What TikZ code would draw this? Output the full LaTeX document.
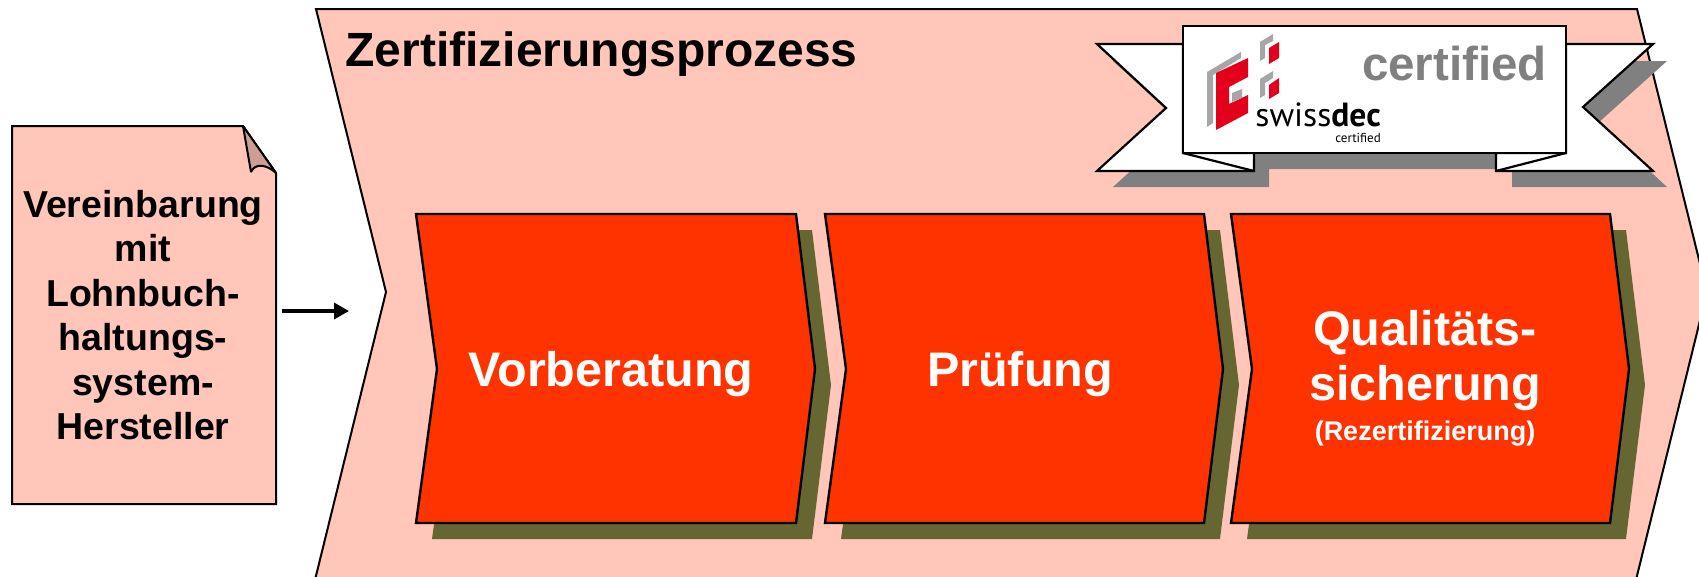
\documentclass[tikz,border=0pt]{standalone}
\usepackage{fontspec}
\usepackage{xcolor}
\setmainfont{Liberation Sans}
\newfontfamily\logofont{PT Sans}
\usetikzlibrary{arrows.meta}
\definecolor{prozessrosa}{HTML}{FFC6B9}
\definecolor{faltrosa}{HTML}{CC9E94}
\definecolor{schrittrot}{HTML}{FF3300}
\definecolor{schrittschatten}{HTML}{666633}
\definecolor{bandgrau}{HTML}{808080}
\definecolor{logorot}{HTML}{E2001A}
\definecolor{logograu}{HTML}{A6A6A6}
\tikzset{
	prozess/.style={draw=black, line width=2pt, fill=prozessrosa},
	band/.style={draw=black, line width=2.2pt, fill=white, line join=miter},
	schatten/.style={fill=bandgrau},
	schritt/.style={draw=black, line width=2.4pt, fill=schrittrot},
	schritttext/.style={text=white, font=\bfseries\fontsize{48.5}{55}\selectfont, align=center},
	kopf/.style={font=\bfseries\fontsize{48}{56}\selectfont, anchor=base west},
	vertragtext/.style={font=\bfseries\fontsize{37.5}{44.4}\selectfont, align=center}
}

\begin{document}
\begin{tikzpicture}[x=1pt, y=-1pt]
	\useasboundingbox (0, 0) rectangle (1699, 576);
	\clip (0, 0) rectangle (1699, 576);

	\draw[prozess] (316, 9) -- (1637, 9) -- (1707, 292) -- (1633, 592) -- (312, 592) -- (386, 292) -- cycle;
	\node[kopf] (titel) at (342, 66) {Zertifizierungsprozess};

	% Vereinbarung
	\draw[prozess] (12, 126) -- (243, 126) -- (276, 173) -- (276, 504) -- (12, 504) -- cycle;
	\draw[draw=black, line width=2pt, line join=bevel, fill=faltrosa] (243, 126) -- (276, 173)
		.. controls (266, 164) and (255, 163) .. (251, 172) -- cycle;
	\node[vertragtext] (vereinbarung) at (143, 315) {Vereinbarung\\mit\\Lohnbuch-\\haltungs-\\system-\\Hersteller};
	\coordinate (pfeilstart) at (282, 311);
	\coordinate (pfeilziel) at (349, 311);
	\draw[-{Triangle[length=15pt, width=16pt]}, line width=3.4pt] (pfeilstart) to (pfeilziel);

	% Schritte
	\foreach \x/\w/\n in {416/380/vorberatung, 825/379/pruefung, 1231/379/qualitaet} {
		\fill[schrittschatten] (\x+16, 230) -- (\x+\w+16, 230) -- (\x+\w+35, 385) -- (\x+\w+16, 539) -- (\x+16, 539) -- (\x+37, 385) -- cycle;
		\draw[schritt] (\x, 214) -- (\x+\w, 214) -- (\x+\w+19, 369) -- (\x+\w, 523) -- (\x, 523) -- (\x+21, 369) -- cycle;
	}
	\node[schritttext] (vorberatungtext) at (611, 374) {Vorberatung};
	\node[schritttext] (pruefungtext) at (1020, 374) {Prüfung};
	\node[schritttext] (qualitaettext) at (1425, 378) {Qualitäts-\\sicherung\\[-15pt]{\fontsize{27}{30}\selectfont (Rezertifizierung)}};

	% Band
	\fill[schatten] (1113, 61) -- (1182, 124) -- (1113, 187) -- (1269, 187) -- (1269, 169) -- (1512, 169) -- (1512, 187) -- (1667, 187) -- (1598, 123) -- (1667, 61) -- (1581, 61) -- (1581, 43) -- (1198, 43) -- (1198, 61) -- cycle;
	\draw[band] (1183, 44) -- (1097, 44) -- (1166, 108) -- (1097, 171) -- (1254, 171) -- (1254, 153) -- (1183, 153) -- cycle;
	\draw[band] (1566, 44) -- (1653, 44) -- (1583, 107) -- (1653, 171) -- (1496, 171) -- (1496, 153) -- (1566, 153) -- cycle;
	\draw[band] (1183, 153) -- (1254, 171);
	\draw[band] (1566, 153) -- (1496, 171);
	\draw[band] (1183, 26) rectangle (1566, 153);

	% Logo
	\fill[logograu] (1207, 72) -- (1241, 52) -- (1241, 58) -- (1213, 75) -- (1213, 123) -- (1207, 127) -- cycle;
	\fill[logorot] (1216, 73) -- (1248, 58) -- (1248, 77) -- (1229, 87) -- (1229, 104) -- (1248, 95) -- (1248, 113) -- (1216, 130) -- cycle;
	\fill[logograu] (1232, 93) -- (1242, 89) -- (1242, 98) -- (1232, 102) -- cycle;
	\fill[logograu] (1260, 42) -- (1273, 34) -- (1273, 41) -- (1265, 45) -- (1265, 58) -- (1260, 61) -- cycle;
	\fill[logorot] (1269, 48) -- (1279, 42) -- (1279, 58) -- (1269, 64) -- cycle;
	\fill[logograu] (1260, 79) -- (1273, 71) -- (1273, 78) -- (1265, 83) -- (1265, 95) -- (1260, 98) -- cycle;
	\fill[logorot] (1269, 85) -- (1279, 78) -- (1279, 93) -- (1269, 99) -- cycle;
	\node[anchor=base east, inner sep=0pt, font=\logofont\fontsize{33.5}{36}\selectfont] (swissdec) at (1381, 126) {swiss\textbf{dec}};
	\node[anchor=base east, inner sep=0pt, font=\logofont\fontsize{13}{15}\selectfont] (logozusatz) at (1381, 142) {certified};
	\node[anchor=base east, inner sep=0pt, text=bandgrau, font=\bfseries\fontsize{47.5}{52}\selectfont] (certified) at (1547, 80) {certified};
\end{tikzpicture}
\end{document}
